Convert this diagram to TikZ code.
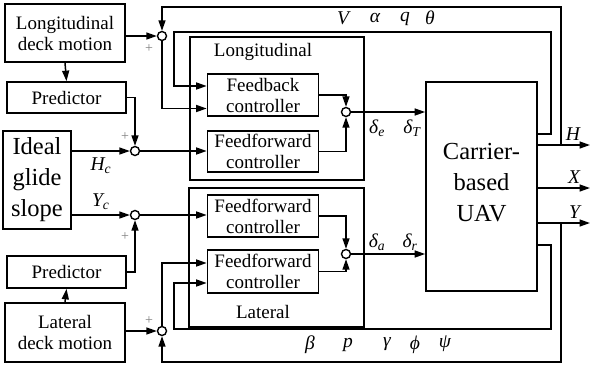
\documentclass[tikz,border=0pt]{standalone}
\usepackage{fontspec}
\setmainfont{Liberation Serif}
\usetikzlibrary{shapes.geometric, arrows.meta}
\tikzstyle{block} = [rectangle, draw=black, line width=1.7pt, minimum width=111pt, minimum height=42pt, inner sep=0pt, text centered, align=center, font=\fontsize{19}{21}\selectfont]
\tikzstyle{group} = [rectangle, draw=black, line width=1.7pt]
\tikzstyle{bigblock} = [block, font=\fontsize{24.5}{31}\selectfont]
\tikzstyle{sumpt} = [circle, draw=black, fill=white, line width=1.4pt, minimum size=9pt, inner sep=0pt]
\tikzstyle{arrow} = [line width=1.5pt, -{Triangle[length=10.5pt,width=7pt]}]
\tikzstyle{plus} = [text=gray, font=\fontsize{14}{14}\selectfont]
\tikzstyle{var} = [font=\fontsize{19.5}{20}\selectfont\itshape]
\begin{document}
\begin{tikzpicture}[x=1pt, y=-1pt]
\useasboundingbox (0,0) rectangle (592,365);

\node (ldeck) [block, minimum width=120pt, minimum height=58pt] at (65,33) {Longitudinal\\deck motion};

\node (lpred) [block, minimum width=119pt, minimum height=31pt] at (66.5,97.5) {Predictor};

\node (glide) [bigblock, minimum width=68pt, minimum height=98pt] at (37,180) {Ideal\\glide\\slope};

\node (rpred) [block, minimum width=119pt, minimum height=32pt] at (66.5,272) {Predictor};

\node (rdeck) [block, minimum width=120pt, minimum height=59pt] at (65,332.5) {Lateral\\deck motion};

\draw [group] (190,37) rectangle (364,180);
\node (lname) [font=\fontsize{19}{21}\selectfont] at (263,52) {Longitudinal};
\node (fb) [block] at (263,95) {Feedback\\controller};
\node (ff1) [block, minimum height=41pt] at (263,151.5) {Feedforward\\controller};
\node (sumL) [sumpt] at (346,112) {};

\draw [group] (189,188) rectangle (364,327);
\node (rname) [font=\fontsize{19}{21}\selectfont] at (263,312) {Lateral};
\node (ff2) [block] at (263,216) {Feedforward\\controller};
\node (ff3) [block, minimum height=43pt] at (263,271.5) {Feedforward\\controller};
\node (sumR) [sumpt] at (346,254) {};

\node (uav) [bigblock, minimum width=111pt, minimum height=209pt, text depth=8pt] at (481.5,186.5) {Carrier-\\based\\UAV};

\node (sumA) [sumpt] at (162,36) {};
\node (sumH) [sumpt] at (135,151) {};
\node (sumY) [sumpt] at (135,215) {};
\node (sumB) [sumpt] at (162,331) {};

\coordinate (Hout) at (590,145);
\coordinate (Xout) at (590,188);
\coordinate (Yout) at (590,223);
\coordinate (Hjoin) at (561,145);
\coordinate (Yjoin) at (561,223);
\coordinate (topL) at (162,7);
\coordinate (botL) at (162,362);
\coordinate (innL) at (551,32);
\coordinate (innR) at (551,329);

\draw [arrow] (ldeck.east |- sumA) -- (sumA);
\draw [arrow] (ldeck.south) -- (lpred.north);
\draw [arrow] (lpred.east) -| (sumH.north);
\draw [arrow] (glide.east |- sumH) -- node[var, below, yshift=-3pt] {H\textsubscript{c}} (sumH);
\draw [arrow] (sumH) -- (ff1.west |- sumH);
\draw [arrow] (sumA.south) |- ([yshift=-13.5pt]fb.west);
\draw [arrow] ([yshift=52.5pt]uav.east) -| (innL) -| (174,86) -- ([yshift=9pt]fb.west);
\draw [arrow] (Hjoin) |- (topL) -- (sumA.north);
\draw [arrow] (fb.east) -| (sumL.north);
\draw [arrow] (ff1.east) -| (sumL.south);
\draw [arrow] (sumL) -- (sumL -| uav.west);

\draw [arrow] (rdeck.east |- sumB) -- (sumB);
\draw [arrow] (rdeck.north) -- (rpred.south);
\draw [arrow] (rpred.east) -| (sumY.south);
\draw [arrow] (glide.east |- sumY) -- node[var, above, yshift=1pt] {Y\textsubscript{c}} (sumY);
\draw [arrow] (sumY) -- (ff2.west |- sumY);
\draw [arrow] (sumB.north) |- ([yshift=8.5pt]ff3.west);
\draw [arrow] ([yshift=-58.5pt]uav.east) -| (innR) -| (174,283) -- ([yshift=-11.5pt]ff3.west);
\draw [arrow] (Yjoin) |- (botL) -- (sumB.south);
\draw [arrow] (ff2.east) -| (sumR.north);
\draw [arrow] (ff3.east) -| (sumR.south);
\draw [arrow] (sumR) -- (sumR -| uav.west);

\draw [arrow] (uav.east |- Hout) -- (Hout) node[var, above left, xshift=-6pt] {H};
\draw [arrow] (uav.east |- Xout) -- (Xout) node[var, above left, xshift=-6pt] {X};
\draw [arrow] (uav.east |- Yout) -- (Yout) node[var, above left, xshift=-6pt] {Y};

\node (de) [var] at (377,128) {δ\textsubscript{e}};
\node (dT) [var] at (412,128) {δ\textsubscript{T}};
\node (da) [var] at (377,242) {δ\textsubscript{a}};
\node (dr) [var] at (410,242) {δ\textsubscript{r}};

\node (vV) [var] at (343,18) {V};
\node (va) [var] at (375,18) {α};
\node (vq) [var] at (405,19) {q};
\node (vt) [var] at (430,18) {θ};

\node (vb) [var] at (310,345) {β};
\node (vp) [var] at (348,345) {p};
\node (vg) [var] at (387,344) {γ};
\node (vf) [var] at (415,345) {ϕ};
\node (vs) [var] at (445,344) {ψ};

\node (pA) [plus] at (149,49) {+};
\node (pH) [plus] at (125,137) {+};
\node (pY) [plus] at (125,237) {+};
\node (pB) [plus] at (149,321) {+};
\end{tikzpicture}
\end{document}
